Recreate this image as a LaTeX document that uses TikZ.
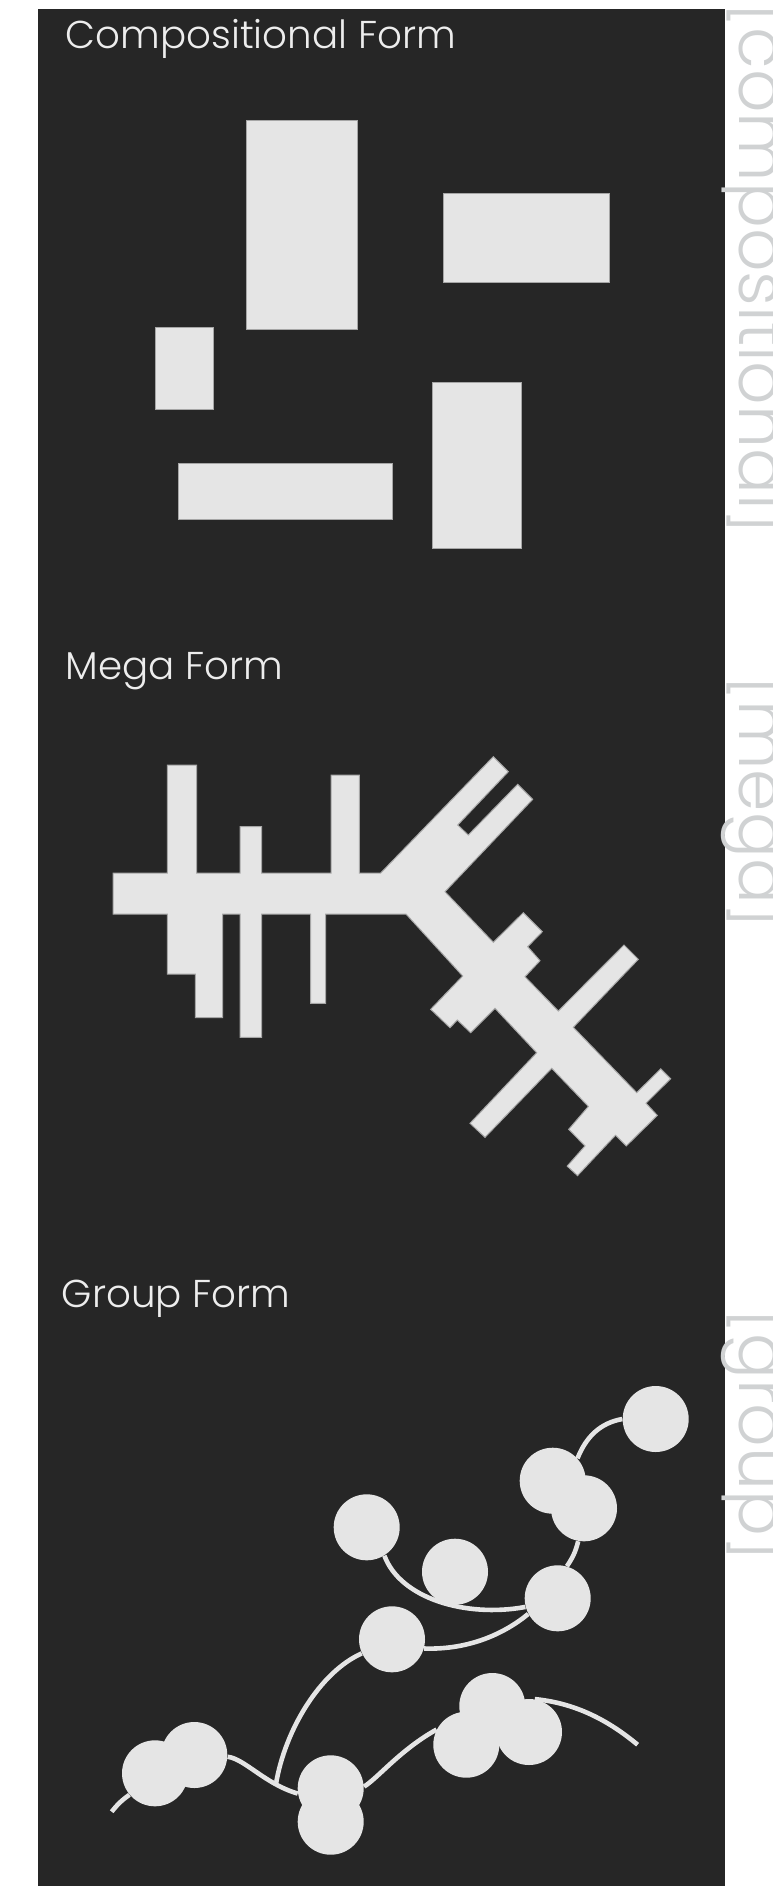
\documentclass[tikz,border=0pt]{standalone}
\usepackage{fontspec}
\IfFontExistsTF{Poppins Light}{\setmainfont{Poppins Light}}{\setmainfont{Poppins}}
\usetikzlibrary{positioning}
\definecolor{panel}{HTML}{262626}
\definecolor{solid}{HTML}{E5E5E5}
\definecolor{edge}{HTML}{A6A6A6}
\definecolor{tagcol}{HTML}{D0D2D3}
\definecolor{titlecol}{HTML}{EDEDED}
\pgfdeclarelayer{back}
\pgfdeclarelayer{wire}
\pgfsetlayers{back,wire,main}
\tikzset{
  block/.style={fill=solid,draw=edge,line width=0.5pt},
  ball/.style={circle,fill=solid,minimum size=33pt,inner sep=0pt},
  wirepath/.style={draw=solid,line width=2.3pt},
  title/.style={text=titlecol,font=\fontsize{19.4}{23}\selectfont,inner sep=0pt,anchor=base west},
  tag/.style={text=tagcol,font=\fontsize{34}{40}\selectfont,inner sep=0pt,rotate=-90,anchor=base west},
}

\begin{document}
\begin{tikzpicture}[x=0.5pt,y=-0.5pt]
      \useasboundingbox (0,0) rectangle (772,1886);
      \begin{pgfonlayer}{back}
      \fill[panel] (37.5,9) rectangle (725,1886);
      \end{pgfonlayer}

      \node[title] (comp) at (65.5,48.2) {Compositional Form};
      \node[title] (mega) at (65.5,679.3) {Mega Form};
      \node[title] (group) at (61.5,1307) {Group Form};
      \node[tag] (compTag) at (739,2) {[compositional]};
      \node[tag] (megaTag) at (739,675) {[mega]};
      \node[tag] (groupTag) at (739,1308) {[group]};

      \filldraw[block] (246.2,120.2) rectangle (357,329);
      \filldraw[block] (443,193.4) rectangle (609.6,282.3);
      \filldraw[block] (155.6,327.4) rectangle (213.2,409.3);
      \filldraw[block] (178.2,463.8) rectangle (392.4,519.2);
      \filldraw[block] (432.3,382.4) rectangle (521,548.8);

      \filldraw[block] (113,873) -- (167.3,873) -- (167.3,765) -- (196.7,765) -- (196.7,873)
        -- (240,873) -- (240,826.7) -- (261.7,826.7) -- (261.7,873)
        -- (331,873) -- (331,775) -- (359.3,775) -- (359.3,873)
        -- (380.7,873) -- (493.3,756.7) -- (508.3,771.7) -- (457.7,825) -- (468.3,835)
        -- (517.7,784.3) -- (532.7,799.3) -- (445,891.7)
        -- (493.3,942.3) -- (523.3,912.7) -- (542.3,931.7) -- (527.7,946.7) -- (540,960.7) -- (525,976.7)
        -- (558.3,1011) -- (624,945) -- (638.3,959.3) -- (573.3,1027.3)
        -- (636.7,1092.7) -- (660.7,1068.8) -- (670.6,1078.7) -- (646,1103.2) -- (657.3,1115.4)
        -- (626.3,1145.9) -- (615.5,1135.2) -- (577.5,1175.6) -- (567.2,1166.1) -- (585,1145.9)
        -- (568.7,1129.3) -- (588.4,1106.4)
        -- (551.7,1068.3) -- (485,1137.3) -- (470,1123.3) -- (536.7,1052.7)
        -- (495,1008.3) -- (470.7,1032.7) -- (457.3,1020) -- (450,1027.7) -- (430.7,1009.3) -- (462.7,976)
        -- (406,914)
        -- (325.7,914) -- (325.7,1003.3) -- (310.7,1003.3) -- (310.7,914)
        -- (261.7,914) -- (261.7,1037.3) -- (240,1037.3) -- (240,914)
        -- (222.7,914) -- (222.7,1017.7) -- (195.3,1017.7) -- (195.3,974) -- (167.3,974) -- (167.3,914)
        -- (113,914) -- cycle;

      \node[ball] (c1) at (655.7,1419) {};
      \node[ball] (c2) at (552.7,1480.7) {};
      \node[ball] (c3) at (584,1508.3) {};
      \node[ball] (c4) at (366.7,1527.3) {};
      \node[ball] (c5) at (455,1571.7) {};
      \node[ball] (c6) at (557.7,1598.3) {};
      \node[ball] (c7) at (392,1639.3) {};
      \node[ball] (c8) at (492.3,1706) {};
      \node[ball] (c9) at (466.3,1744.7) {};
      \node[ball] (c10) at (529,1732) {};
      \node[ball] (c12) at (155,1773.3) {};
      \node[ball] (c11) at (194.3,1755) {};
      \node[ball] (c13) at (330.7,1788.3) {};
      \node[ball] (c14) at (330.7,1821.7) {};
      \coordinate (tail) at (111.7,1811.7);
      \coordinate (fork) at (276,1783.8);
      \coordinate (end) at (637.6,1744.7);

      \begin{pgfonlayer}{wire}
      \draw[wirepath] (c2.42) .. controls (586,1437) and (600,1423) .. (c1.180);
      \draw[wirepath] (c3.-100) to[bend left=10] (c6.74);
      \draw[wirepath] (c4.-58) .. controls (400,1598) and (465,1618) .. (c6.195);
      \draw[wirepath] (c6.208) .. controls (505,1633) and (470,1650) .. (c7.-16);
      \draw[wirepath] (c7.-155) .. controls (320,1672) and (285,1730) .. (fork);
      \draw[wirepath] (tail) to[bend left=8] (c12.-140);
      \draw[wirepath] (c11.-3) .. controls (245,1759) and (265,1784) .. (c13.189);
      \draw[wirepath] (c13.3) .. controls (378,1778) and (400,1750) .. (c9.153);
      \draw[wirepath] (c10.80) .. controls (575,1703) and (608,1720) .. (end);
      \end{pgfonlayer}
    \end{tikzpicture}
\end{document}
